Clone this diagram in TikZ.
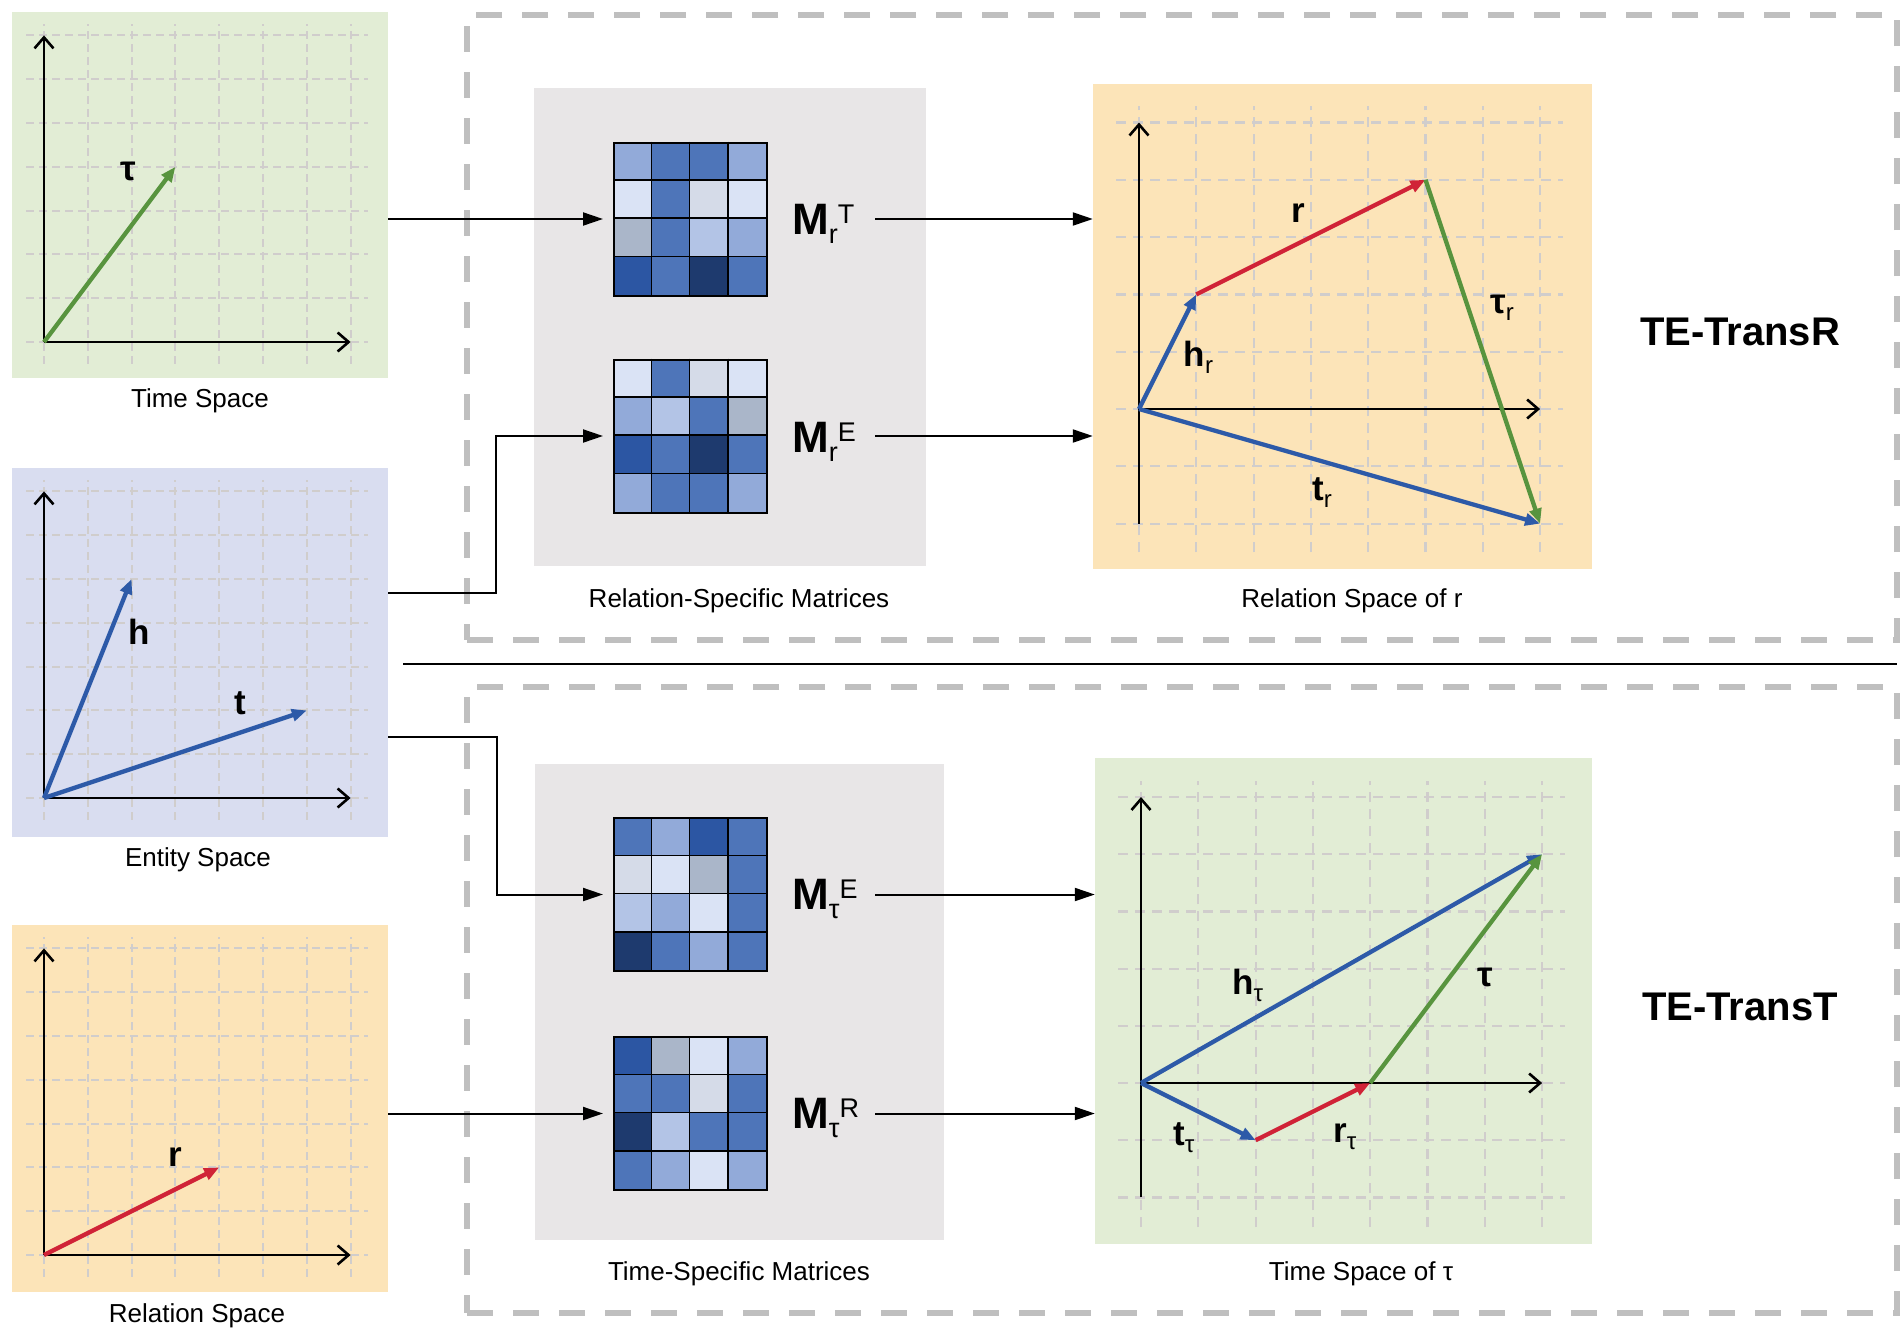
\documentclass[tikz,border=0pt]{standalone}
\usepackage{fontspec}
\setmainfont{Liberation Sans}
\usetikzlibrary{arrows.meta,calc}
\definecolor{pgreen}{RGB}{226,237,213}
\definecolor{plav}{RGB}{217,221,240}
\definecolor{porange}{RGB}{252,228,184}
\definecolor{pgray}{RGB}{232,230,231}
\definecolor{gridc}{RGB}{208,205,204}
\definecolor{dboxc}{RGB}{191,191,191}
\definecolor{vgreen}{RGB}{88,148,62}
\definecolor{vblue}{RGB}{45,90,168}
\definecolor{vred}{RGB}{208,35,55}
\definecolor{mVL}{HTML}{DAE3F5}
\definecolor{mLG}{HTML}{D5DBE8}
\definecolor{mG}{HTML}{AAB6C9}
\definecolor{mL}{HTML}{B3C4E6}
\definecolor{mM}{HTML}{92AAD9}
\definecolor{mB}{HTML}{4E75B9}
\definecolor{mD}{HTML}{2C56A3}
\definecolor{mX}{HTML}{1E3A6E}
\newcommand\Mlab[2]{{\fontsize{44}{50}\selectfont\bfseries M}\raisebox{-9pt}{\fontsize{27}{30}\selectfont #1}\raisebox{11pt}{\fontsize{27}{30}\selectfont #2}}
\newcommand\vl[2]{{\fontsize{35}{40}\selectfont\bfseries #1}\raisebox{-7pt}{\fontsize{24}{28}\selectfont #2}}
\newcommand\vb[1]{{\fontsize{35}{40}\selectfont\bfseries #1}}
\newcommand\mymatrix[4]{%
  \foreach \c [count=\k from 0] in {#4} {
    \pgfmathsetmacro\cx{#2+mod(\k,4)*38.25}
    \pgfmathsetmacro\cy{#3+div(\k,4)*38.25}
    \fill[\c] (\cx,\cy) rectangle ++(38.25,38.25);
  }
  \foreach \i in {1,2,3} {
    \draw[line width=1.5pt] ({#2+\i*38.25},#3) -- ++(0,153);
    \draw[line width=1.5pt] (#2,{#3+\i*38.25}) -- ++(153,0);
  }
  \node[draw, line width=2pt, minimum size=153pt, inner sep=0pt, anchor=north west] (#1) at (#2,#3) {};
}
\begin{document}
\begin{tikzpicture}[x=1pt,y=-1pt,
  panel/.style={draw=none, inner sep=0pt},
  dbox/.style={draw=dboxc, line width=6pt, dash pattern=on 26pt off 20pt, inner sep=0pt},
  gridS/.style={draw=gridc, line width=2pt, dash pattern=on 8pt off 5pt},
  gridL/.style={draw=gridc, line width=2.2pt, dash pattern=on 10pt off 7pt},
  axisln/.style={draw=black, line width=2.6pt, -{Straight Barb[length=11pt,width=19pt]}},
  vec/.style={line width=4.3pt, -{Triangle[length=15pt,width=12pt]}},
  conn/.style={draw=black, line width=2pt, -{Triangle[length=20pt,width=13pt]}},
  captxt/.style={inner sep=0pt, font=\fontsize{26}{30}\selectfont},
  lab/.style={inner sep=0pt},
  ttl/.style={inner sep=0pt, font=\fontsize{40}{48}\selectfont\bfseries}
]
\useasboundingbox (0,0) rectangle (1900,1328);
\fill[white] (0,0) rectangle (1900,1328);

% dashed model boxes
\node[dbox, minimum width=1430pt, minimum height=625pt] (boxR) at (1182,327.5) {};
\node[dbox, minimum width=1430pt, minimum height=626pt] (boxT) at (1182,1000) {};
\draw[line width=2.5pt] (403,664) -- (1897,664);

% left panels
\node[panel, fill=pgreen, minimum width=376pt, minimum height=366pt] (tsp) at (200,195) {};
\node[panel, fill=plav, minimum width=376pt, minimum height=369pt] (esp) at (200,652.5) {};
\node[panel, fill=porange, minimum width=376pt, minimum height=367pt] (rsp) at (200,1108.5) {};

% right panels
\node[panel, fill=porange, minimum width=499pt, minimum height=485pt] (rsR) at (1342.5,326.5) {};
\node[panel, fill=pgreen, minimum width=497pt, minimum height=486pt] (tsT) at (1343.5,1001) {};

% gray matrix panels
\node[panel, fill=pgray, minimum width=392pt, minimum height=478pt] (gp1) at (730,327) {};
\node[panel, fill=pgray, minimum width=409pt, minimum height=476pt] (gp2) at (739.5,1002) {};

% ---- small panel: Time Space
\begin{scope}[shift={(44,342)}, x=43.8pt, y=43.8pt]
  \foreach \i in {0,...,7} {
    \draw[gridS] (\i,-0.5) -- (\i,7.25);
    \draw[gridS] (-0.4,\i) -- (7.4,\i);
  }
  \coordinate (ts-o) at (0,0);
  \coordinate (ts-x) at (7,0);
  \coordinate (ts-y) at (0,7);
  \coordinate (ts-tau) at (3,4);
\end{scope}
\draw[axisln] (ts-o) -- (ts-x);
\draw[axisln] (ts-o) -- (ts-y);
\draw[vec, vgreen] (ts-o) -- (ts-tau);
\node[lab, anchor=base] (l-tau) at (128,180) {\vb{τ}};

% ---- small panel: Entity Space
\begin{scope}[shift={(44,798)}, x=43.8pt, y=43.8pt]
  \foreach \i in {0,...,7} {
    \draw[gridS] (\i,-0.5) -- (\i,7.25);
    \draw[gridS] (-0.4,\i) -- (7.4,\i);
  }
  \coordinate (es-o) at (0,0);
  \coordinate (es-x) at (7,0);
  \coordinate (es-y) at (0,7);
  \coordinate (es-h) at (2,5);
  \coordinate (es-t) at (6,2);
\end{scope}
\draw[axisln] (es-o) -- (es-x);
\draw[axisln] (es-o) -- (es-y);
\draw[vec, vblue] (es-o) -- (es-h);
\draw[vec, vblue] (es-o) -- (es-t);
\node[lab, anchor=base] (l-h) at (139,644) {\vb{h}};
\node[lab, anchor=base] (l-t) at (240,714) {\vb{t}};

% ---- small panel: Relation Space
\begin{scope}[shift={(44,1255)}, x=43.8pt, y=43.8pt]
  \foreach \i in {0,...,7} {
    \draw[gridS] (\i,-0.5) -- (\i,7.25);
    \draw[gridS] (-0.4,\i) -- (7.4,\i);
  }
  \coordinate (rs-o) at (0,0);
  \coordinate (rs-x) at (7,0);
  \coordinate (rs-y) at (0,7);
  \coordinate (rs-r) at (4,2);
\end{scope}
\draw[axisln] (rs-o) -- (rs-x);
\draw[axisln] (rs-o) -- (rs-y);
\draw[vec, vred] (rs-o) -- (rs-r);
\node[lab, anchor=base] (l-r) at (175,1166) {\vb{r}};

% ---- large panel: Relation Space of r
\begin{scope}[shift={(1139,409)}, x=57.3pt, y=57.3pt]
  \foreach \i in {0,...,7} \draw[gridL] (\i,-2.5) -- (\i,5.28);
  \foreach \j in {-2,...,5} \draw[gridL] (-0.4,\j) -- (7.4,\j);
  \coordinate (rR-o) at (0,0);
  \coordinate (rR-x) at (7,0);
  \coordinate (rR-y) at (0,5);
  \coordinate (rR-yb) at (0,-2);
  \coordinate (rR-h) at (1,2);
  \coordinate (rR-r) at (5,4);
  \coordinate (rR-t) at (7,-2);
\end{scope}
\draw[axisln] (rR-o) -- (rR-x);
\draw[axisln] (rR-yb) -- (rR-y);
\draw[vec, vblue] (rR-o) -- (rR-h);
\draw[vec, vred] (rR-h) -- (rR-r);
\draw[vec, vblue] (rR-o) -- (rR-t);
\draw[vec, vgreen] (rR-r) -- (rR-t);
\node[lab, anchor=base] (l-rR) at (1298,222) {\vb{r}};
\node[lab, anchor=base west] (l-hR) at (1183.5,366) {\vl{h}{r}};
\node[lab, anchor=base west] (l-tauR) at (1490,313) {\vl{τ}{r}};
\node[lab, anchor=base west] (l-tR) at (1312,500) {\vl{t}{r}};

% ---- large panel: Time Space of tau
\begin{scope}[shift={(1141,1083)}, x=57.3pt, y=57.2pt]
  \foreach \i in {0,...,7} \draw[gridL] (\i,-2.52) -- (\i,5.28);
  \foreach \j in {-2,...,5} \draw[gridL] (-0.4,\j) -- (7.4,\j);
  \coordinate (tT-o) at (0,0);
  \coordinate (tT-x) at (7,0);
  \coordinate (tT-y) at (0,5);
  \coordinate (tT-yb) at (0,-2);
  \coordinate (tT-h) at (7,4);
  \coordinate (tT-t) at (2,-1);
  \coordinate (tT-r) at (4,0);
\end{scope}
\draw[axisln] (tT-o) -- (tT-x);
\draw[axisln] (tT-yb) -- (tT-y);
\draw[vec, vblue] (tT-o) -- (tT-h);
\draw[vec, vblue] (tT-o) -- (tT-t);
\draw[vec, vred] (tT-t) -- (tT-r);
\draw[vec, vgreen] (tT-r) -- (tT-h);
\node[lab, anchor=base west] (l-hT) at (1232,994) {\vl{h}{τ}};
\node[lab, anchor=base] (l-tauT) at (1485,986) {\vb{τ}};
\node[lab, anchor=base west] (l-tT) at (1173,1145) {\vl{t}{τ}};
\node[lab, anchor=base west] (l-rT) at (1333,1142) {\vl{r}{τ}};

% ---- matrices
\mymatrix{m1}{613}{141.5}{mM,mB,mB,mM, mVL,mB,mLG,mVL, mG,mB,mL,mM, mD,mB,mX,mB}
\mymatrix{m2}{613}{358.5}{mVL,mB,mLG,mVL, mM,mL,mB,mG, mD,mB,mX,mB, mM,mB,mB,mM}
\mymatrix{m3}{613}{817}{mB,mM,mD,mB, mLG,mVL,mG,mB, mL,mM,mVL,mB, mX,mB,mM,mB}
\mymatrix{m4}{613}{1036}{mD,mG,mVL,mM, mB,mB,mLG,mB, mX,mL,mB,mB, mB,mM,mVL,mM}

\node[lab, anchor=base west] (lm1) at (792,234) {\Mlab{r}{T}};
\node[lab, anchor=base west] (lm2) at (792,452) {\Mlab{r}{E}};
\node[lab, anchor=base west] (lm3) at (792,909) {\Mlab{τ}{E}};
\node[lab, anchor=base west] (lm4) at (792,1128) {\Mlab{τ}{R}};

% ---- captions
\node[captxt, anchor=base] (c-ts) at (200,407) {Time Space};
\node[captxt, anchor=base] (c-es) at (198,866) {Entity Space};
\node[captxt, anchor=base] (c-rs) at (197,1322) {Relation Space};
\node[captxt, anchor=base] (c-m1) at (739,607) {Relation-Specific Matrices};
\node[captxt, anchor=base] (c-m2) at (739,1280) {Time-Specific Matrices};
\node[captxt, anchor=base] (c-rR) at (1352,607) {Relation Space of r};
\node[captxt, anchor=base] (c-tT) at (1361,1280) {Time Space of τ};
\node[ttl, anchor=base] (tR) at (1740,345) {TE-TransR};
\node[ttl, anchor=base] (tT) at (1740,1020) {TE-TransT};

% ---- connectors
\coordinate (e1) at (496,593);
\coordinate (e2) at (497,737);
\draw[conn] (tsp.east |- m1.west) -- ([xshift=-10pt]m1.west);
\draw[conn] (esp.east |- e1) -- (e1) |- ([xshift=-10pt]m2.west);
\draw[conn] (esp.east |- e2) -- (e2) |- ([xshift=-10pt]m3.west);
\draw[conn] (rsp.east |- m4.west) -- ([xshift=-10pt]m4.west);

\coordinate (o1) at (875,0);
\draw[conn] (o1 |- m1.west) -- (rsR.west |- m1.west);
\draw[conn] (o1 |- m2.west) -- (rsR.west |- m2.west);
\draw[conn] (o1 |- m3.west) -- (tsT.west |- m3.west);
\draw[conn] (o1 |- m4.west) -- (tsT.west |- m4.west);
\end{tikzpicture}
\end{document}
